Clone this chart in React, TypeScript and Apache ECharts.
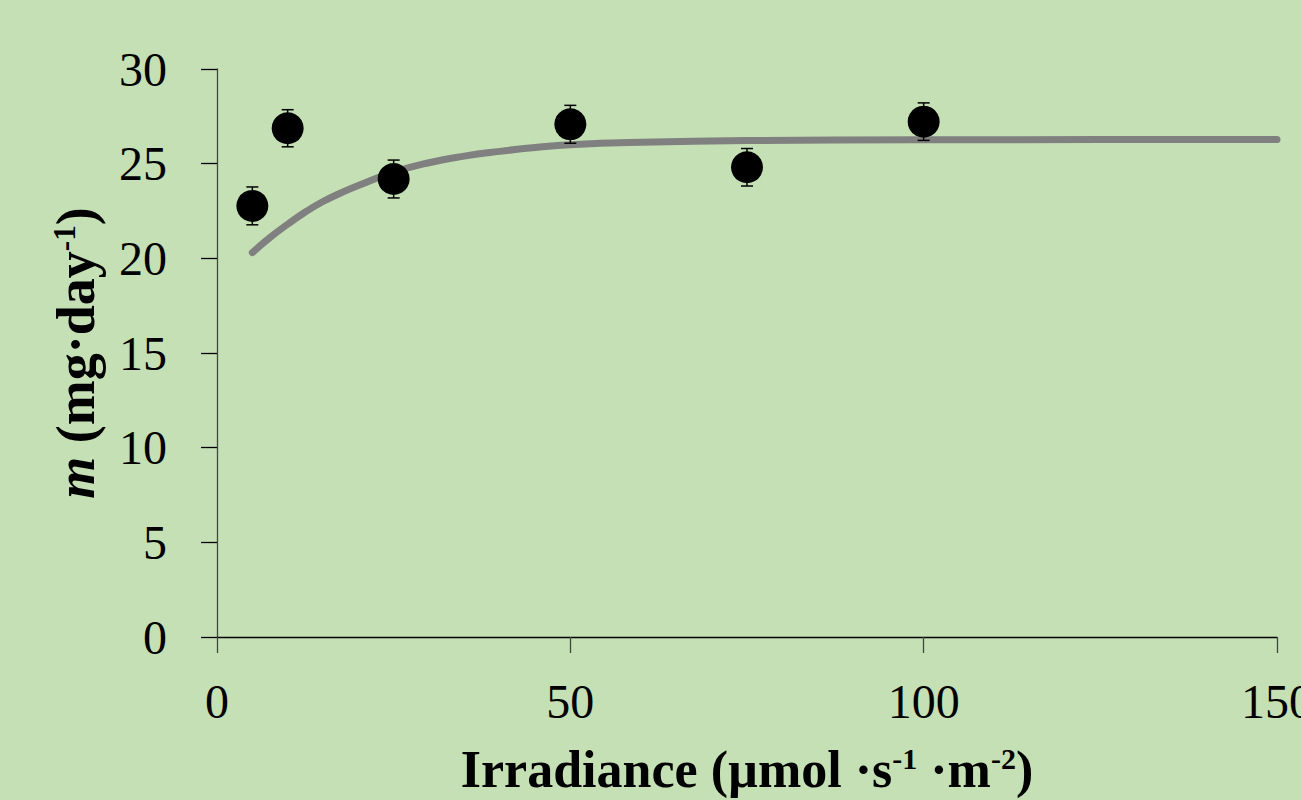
import React, { useEffect, useRef } from "react";
import * as echarts from "echarts";

// Measured points (irradiance, m) with error (±)
const irradiance = [5, 10, 25, 50, 75, 100];
const mValues = [22.77, 26.87, 24.19, 27.08, 24.81, 27.22];
const mErrors = [1.0, 0.98, 1.0, 1.0, 0.99, 0.99];

// Fitted curve
const fitX = [5, 7.5, 10, 12.5, 15, 17.5, 20, 25, 30, 35, 40, 45, 50, 60, 75, 100, 125, 150];
const fitY = [20.3, 21.1, 21.8, 22.45, 23.0, 23.45, 23.85, 24.55, 25.05, 25.4, 25.65, 25.85, 26.0, 26.13, 26.22, 26.26, 26.27, 26.27];

const xTicks = [0, 50, 100, 150];
const yTicks = [0, 5, 10, 15, 20, 25, 30];

const SERIF = "'Liberation Serif', 'DejaVu Serif', serif";

export default function App() {
  const ref = useRef<HTMLDivElement>(null);

  useEffect(() => {
    if (!ref.current) return;
    document.documentElement.style.overflow = "hidden";
    document.body.style.margin = "0";
    const chart = echarts.init(ref.current, null, { renderer: "svg" });

    const option: any = {
      animation: false,
      backgroundColor: "#C5E0B4",
      grid: { left: 217, right: 24, top: 69, bottom: 163, containLabel: false, outerBoundsMode: "none" },
      xAxis: {
        type: "value",
        min: xTicks[0],
        max: xTicks[xTicks.length - 1],
        interval: 50,
        splitLine: { show: false },
        axisLine: { show: true, onZero: false, lineStyle: { color: "#000", width: 1.3 } },
        axisTick: { show: true, length: 16, lineStyle: { color: "#404a3c", width: 1.3 } },
        axisLabel: { fontFamily: SERIF, fontSize: 48, color: "#000", margin: 40 },
        name: "{b|Irradiance (µmol ·s}{sup|-1}{b| ·m}{sup|-2}{b|)}",
        nameLocation: "middle",
        nameGap: 106,
        nameTextStyle: {
          rich: {
            b: { fontFamily: SERIF, fontWeight: "bold", fontSize: 52, color: "#000" },
            sup: { fontFamily: SERIF, fontWeight: "bold", fontSize: 30, color: "#000", verticalAlign: "top" },
          },
        },
      },
      yAxis: {
        type: "value",
        min: yTicks[0],
        max: yTicks[yTicks.length - 1],
        interval: 5,
        splitLine: { show: false },
        axisLine: { show: true, onZero: false, lineStyle: { color: "#404a3c", width: 1.3 } },
        axisTick: { show: true, length: 16, lineStyle: { color: "#000", width: 1.3 } },
        axisLabel: { fontFamily: SERIF, fontSize: 48, color: "#000", margin: 50 },
        name: "{i|m}{b| (mg·day}{sup|-1}{b|)}",
        nameLocation: "middle",
        nameRotate: 90,
        nameGap: 114,
        nameTextStyle: {
          rich: {
            i: { fontFamily: SERIF, fontWeight: "bold", fontStyle: "italic", fontSize: 54, color: "#000" },
            b: { fontFamily: SERIF, fontWeight: "bold", fontSize: 54, color: "#000" },
            sup: { fontFamily: SERIF, fontWeight: "bold", fontSize: 31, color: "#000", verticalAlign: "top" },
          },
        },
      },
      series: [
        {
          type: "line",
          data: fitX.map((x, i) => [x, fitY[i]]),
          smooth: true,
          showSymbol: false,
          symbol: "none",
          lineStyle: { color: "#808080", width: 7, cap: "round", join: "round" },
          z: 1,
        },
        {
          type: "custom",
          data: irradiance.map((x, i) => [x, mValues[i] - mErrors[i], mValues[i] + mErrors[i]]),
          renderItem: (params: any, api: any) => {
            const x = api.value(0);
            const lo = api.coord([x, api.value(1)]);
            const hi = api.coord([x, api.value(2)]);
            const hw = 6;
            const style = { stroke: "#000", lineWidth: 1.5 };
            return {
              type: "group",
              children: [
                { type: "line", shape: { x1: lo[0], y1: lo[1], x2: hi[0], y2: hi[1] }, style },
                { type: "line", shape: { x1: lo[0] - hw, y1: lo[1], x2: lo[0] + hw, y2: lo[1] }, style },
                { type: "line", shape: { x1: hi[0] - hw, y1: hi[1], x2: hi[0] + hw, y2: hi[1] }, style },
              ],
            };
          },
          z: 2,
        },
        {
          type: "scatter",
          data: irradiance.map((x, i) => [x, mValues[i]]),
          symbol: "circle",
          symbolSize: 32,
          itemStyle: { color: "#000", opacity: 1 },
          z: 3,
        },
      ],
    };

    chart.setOption(option);
    return () => chart.dispose();
  }, []);

  return (
    <div
      ref={ref}
      style={{ position: "fixed", left: 0, top: 0, width: 1301, height: 800 }}
    />
  );
}
